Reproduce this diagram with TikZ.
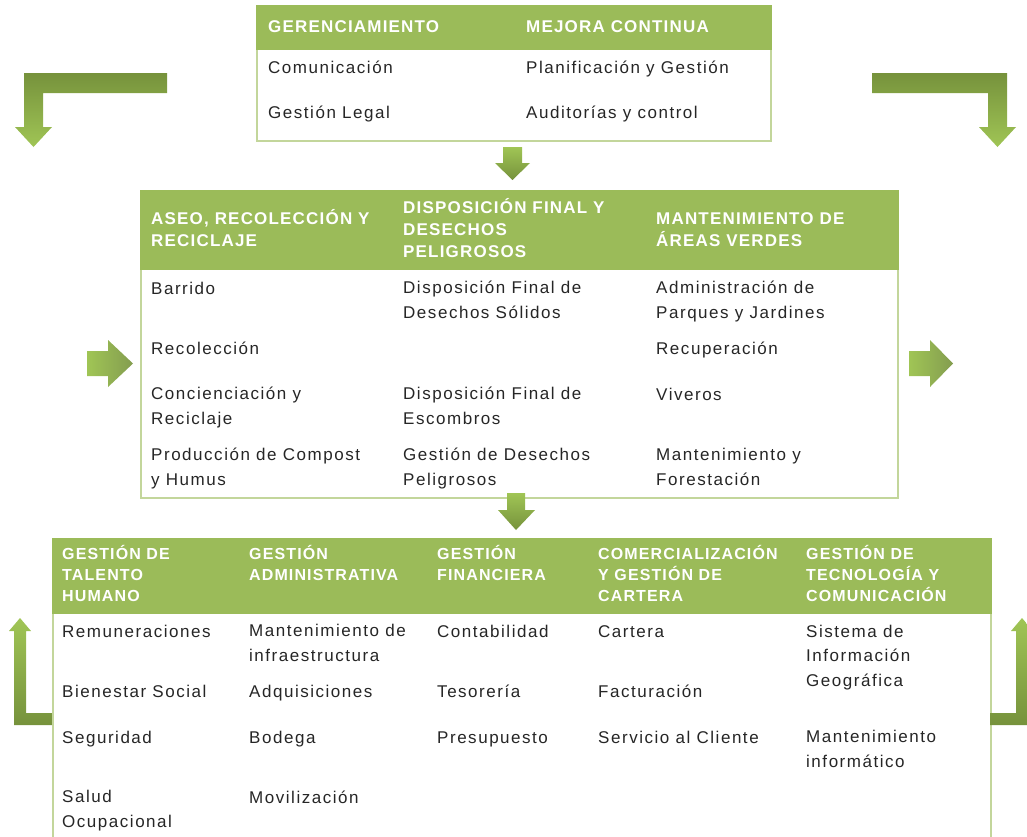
\documentclass[tikz,border=0pt]{standalone}
\usepackage{fontspec}
\setmainfont{Liberation Sans}
\newfontfamily\bodyfont[LetterSpace=9]{Liberation Sans}
\newfontfamily\headfont[LetterSpace=7]{Liberation Sans}
\definecolor{hdgreen}{HTML}{9BBB59}
\definecolor{rulegreen}{HTML}{C3D69B}
\definecolor{arrowdark}{HTML}{76923C}
\definecolor{arrowlight}{HTML}{A0C555}
\definecolor{textgray}{HTML}{262626}

\begin{document}
\begin{tikzpicture}[x=1pt, y=-1pt]
        \tikzstyle{frame}=[draw=rulegreen, line width=1.5pt, fill=white, anchor=north west, inner sep=0]
        \tikzstyle{headbar}=[draw=hdgreen, line width=1.5pt, fill=hdgreen, anchor=north west, inner sep=0]
        \tikzstyle{hd}=[anchor=base west, align=left, inner sep=0, text=white, font=\headfont\bfseries\fontsize{17}{22}\selectfont]
        \tikzstyle{hdsmall}=[hd, font=\headfont\bfseries\fontsize{16}{21}\selectfont]
        \tikzstyle{txt}=[anchor=base west, align=left, inner sep=0, text=textgray, font=\bodyfont\fontsize{17}{24.5}\selectfont]
        \tikzstyle{blockdown}=[top color=arrowdark, bottom color=arrowlight]
        \tikzstyle{blockup}=[top color=arrowlight, bottom color=arrowdark]
        \tikzstyle{blockright}=[left color=arrowlight, right color=arrowdark!90]

        \clip (0,0) rectangle (1027,836);

        % tables
        \node[frame, minimum width=514pt, minimum height=135pt] (top) at (256,5) {};
        \node[headbar, minimum width=514pt, minimum height=43pt] (tophd) at (top.north west) {};
        \node[frame, minimum width=757pt, minimum height=307pt] (mid) at (140,190) {};
        \node[headbar, minimum width=757pt, minimum height=78pt] (midhd) at (mid.north west) {};
        \node[frame, minimum width=938pt, minimum height=330pt] (bot) at (52,538) {};
        \node[headbar, minimum width=938pt, minimum height=74pt] (bothd) at (bot.north west) {};

        % top table (base = last line)
        \node[hd] (gerh) at (268,32) {GERENCIAMIENTO};
        \node[hd] (mejh) at (526,32) {MEJORA CONTINUA};
        \node[txt] (comu) at (268,73) {Comunicación};
        \node[txt] (legal) at (268,118) {Gestión Legal};
        \node[txt] (plan) at (526,73) {Planificación y Gestión};
        \node[txt] (audit) at (526,118) {Auditorías y control};

        % middle table
        \node[hd] (aseoh) at (151,246) {ASEO, RECOLECCIÓN Y\\RECICLAJE};
        \node[hd] (disph) at (403,257) {DISPOSICIÓN FINAL Y\\DESECHOS\\PELIGROSOS};
        \node[hd] (manth) at (656,246) {MANTENIMIENTO DE\\ÁREAS VERDES};
        \node[txt] (barr) at (151,294) {Barrido};
        \node[txt] (reco) at (151,354) {Recolección};
        \node[txt] (conc) at (151,424) {Concienciación y\\Reciclaje};
        \node[txt] (comp) at (151,485) {Producción de Compost\\y Humus};
        \node[txt] (solid) at (403,318) {Disposición Final de\\Desechos Sólidos};
        \node[txt] (escom) at (403,424) {Disposición Final de\\Escombros};
        \node[txt] (pelig) at (403,485) {Gestión de Desechos\\Peligrosos};
        \node[txt] (parq) at (656,318) {Administración de\\Parques y Jardines};
        \node[txt] (recu) at (656,354) {Recuperación};
        \node[txt] (vive) at (656,400) {Viveros};
        \node[txt] (fore) at (656,485) {Mantenimiento y\\Forestación};

        % bottom table
        \node[hdsmall] (talh) at (62,601) {GESTIÓN DE\\TALENTO\\HUMANO};
        \node[hdsmall] (admh) at (249,580) {GESTIÓN\\ADMINISTRATIVA};
        \node[hdsmall] (finh) at (437,580) {GESTIÓN\\FINANCIERA};
        \node[hdsmall] (comh) at (598,601) {COMERCIALIZACIÓN\\Y GESTIÓN DE\\CARTERA};
        \node[hdsmall] (tech) at (806,601) {GESTIÓN DE\\TECNOLOGÍA Y\\COMUNICACIÓN};
        \node[txt] (remu) at (62,637) {Remuneraciones};
        \node[txt] (bien) at (62,697) {Bienestar Social};
        \node[txt] (segu) at (62,743) {Seguridad};
        \node[txt] (salud) at (62,827) {Salud\\Ocupacional};
        \node[txt] (infra) at (249,661) {Mantenimiento de\\infraestructura};
        \node[txt] (adqu) at (249,697) {Adquisiciones};
        \node[txt] (bode) at (249,743) {Bodega};
        \node[txt] (movi) at (249,803) {Movilización};
        \node[txt] (conta) at (437,637) {Contabilidad};
        \node[txt] (teso) at (437,697) {Tesorería};
        \node[txt] (presu) at (437,743) {Presupuesto};
        \node[txt] (cart) at (598,637) {Cartera};
        \node[txt] (fact) at (598,697) {Facturación};
        \node[txt] (serv) at (598,743) {Servicio al Cliente};
        \node[txt] (sig) at (806,686) {Sistema de\\Información\\Geográfica};
        \node[txt] (minf) at (806,767) {Mantenimiento\\informático};

        % block arrows
        \shade[blockdown] (167,73) -- (24,73) -- (24,127) -- (15,127) -- (33.5,147) -- (52,127) -- (43,127) -- (43,93) -- (167,93) -- cycle;
        \shade[blockdown] (872,73) -- (1007,73) -- (1007,127) -- (1016,127) -- (997.5,147) -- (979,127) -- (988,127) -- (988,93) -- (872,93) -- cycle;
        \shade[blockup] (503,147) -- (522,147) -- (522,163) -- (530,163) -- (512.5,180) -- (495,163) -- (503,163) -- cycle;
        \shade[blockup] (507,493) -- (525,493) -- (525,510) -- (535,510) -- (516,530) -- (498,510) -- (507,510) -- cycle;
        \shade[blockright] (87,351) -- (108,351) -- (108,340) -- (133,363.5) -- (108,387) -- (108,376) -- (87,376) -- cycle;
        \shade[blockright] (909,351) -- (930,351) -- (930,340) -- (953,363.5) -- (930,387) -- (930,376) -- (909,376) -- cycle;
        \shade[blockup] (52,713) -- (26,713) -- (26,631) -- (31,631) -- (20,618) -- (9,631) -- (14,631) -- (14,725) -- (52,725) -- cycle;
        \shade[blockup] (990,713) -- (1016,713) -- (1016,631) -- (1011,631) -- (1022,618) -- (1033,631) -- (1028,631) -- (1028,725) -- (990,725) -- cycle;
\end{tikzpicture}
\end{document}
